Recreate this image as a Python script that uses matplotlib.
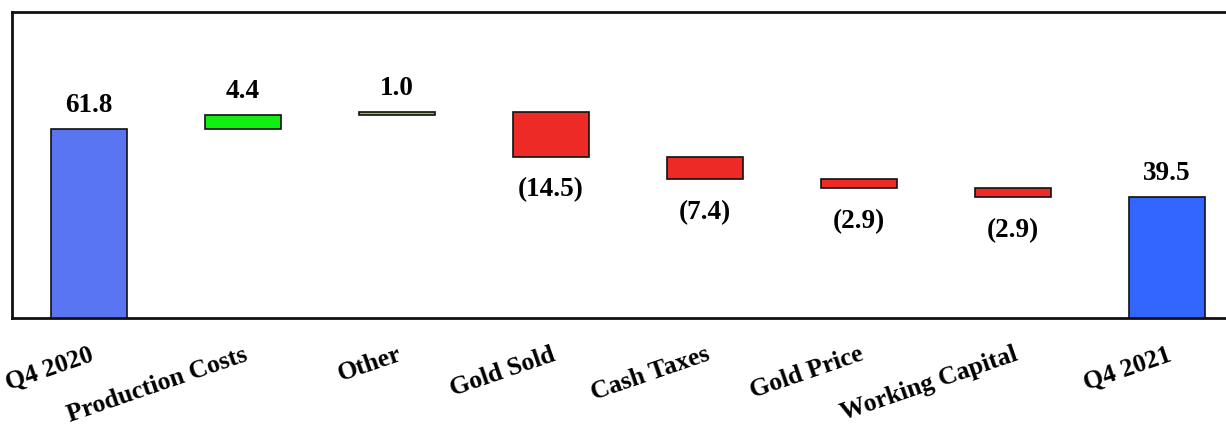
import matplotlib
matplotlib.use("Agg")
import matplotlib.pyplot as plt
import numpy as np

categories = ["Q4 2020", "Production Costs", "Other", "Gold Sold", "Cash Taxes",
              "Gold Price", "Working Capital", "Q4 2021"]
changes = [61.8, 4.4, 1.0, -14.5, -7.4, -2.9, -2.9]
end_total = 39.5
labels = ["61.8", "4.4", "1.0", "(14.5)", "(7.4)", "(2.9)", "(2.9)", "39.5"]
colors = ["#5a75f2", "#11ee11", "#8cc63f", "#ee2a26", "#ee2a26", "#ee2a26", "#ee2a26", "#3366ff"]

plt.rcParams['font.family'] = ['Liberation Serif', 'DejaVu Serif']

fig = plt.figure(figsize=(12.26, 4.28), dpi=100)
ax = fig.add_axes([12/1226, 1 - 318/428, 1232/1226, 306/428])

bottoms, heights = [], []
running = 0.0
for i, c in enumerate(changes):
    if i == 0:
        bottoms.append(0.0); heights.append(c); running = c
    else:
        bottoms.append(min(running, running + c)); heights.append(abs(c)); running += c
bottoms.append(0.0); heights.append(end_total)

x = np.arange(len(categories))
ax.bar(x, heights, bottom=bottoms, width=0.49, color=colors, edgecolor="#111111", linewidth=1.2, zorder=3)

for i in range(len(categories)):
    top = bottoms[i] + heights[i]
    neg = labels[i].startswith("(")
    if neg:
        ax.annotate(labels[i], (x[i], bottoms[i]), xytext=(0, -15), textcoords="offset points",
                    ha="center", va="top", fontsize=19.5, fontweight="bold")
    else:
        ax.annotate(labels[i], (x[i], top), xytext=(0, 8), textcoords="offset points",
                    ha="center", va="bottom", fontsize=19.5, fontweight="bold")

ax.set_xlim(-0.5, len(categories) - 0.5)
ax.set_ylim(0, 100)
ax.set_yticks([])
ax.set_xticks(x)
ax.set_xticklabels(categories, rotation=19, ha="right", rotation_mode="anchor",
                   fontsize=18.5, fontweight="bold")
ax.tick_params(axis="x", length=0, pad=18)
for s in ax.spines.values():
    s.set_linewidth(2)
    s.set_color("#111111")

fig.savefig("out.png", dpi=100)
